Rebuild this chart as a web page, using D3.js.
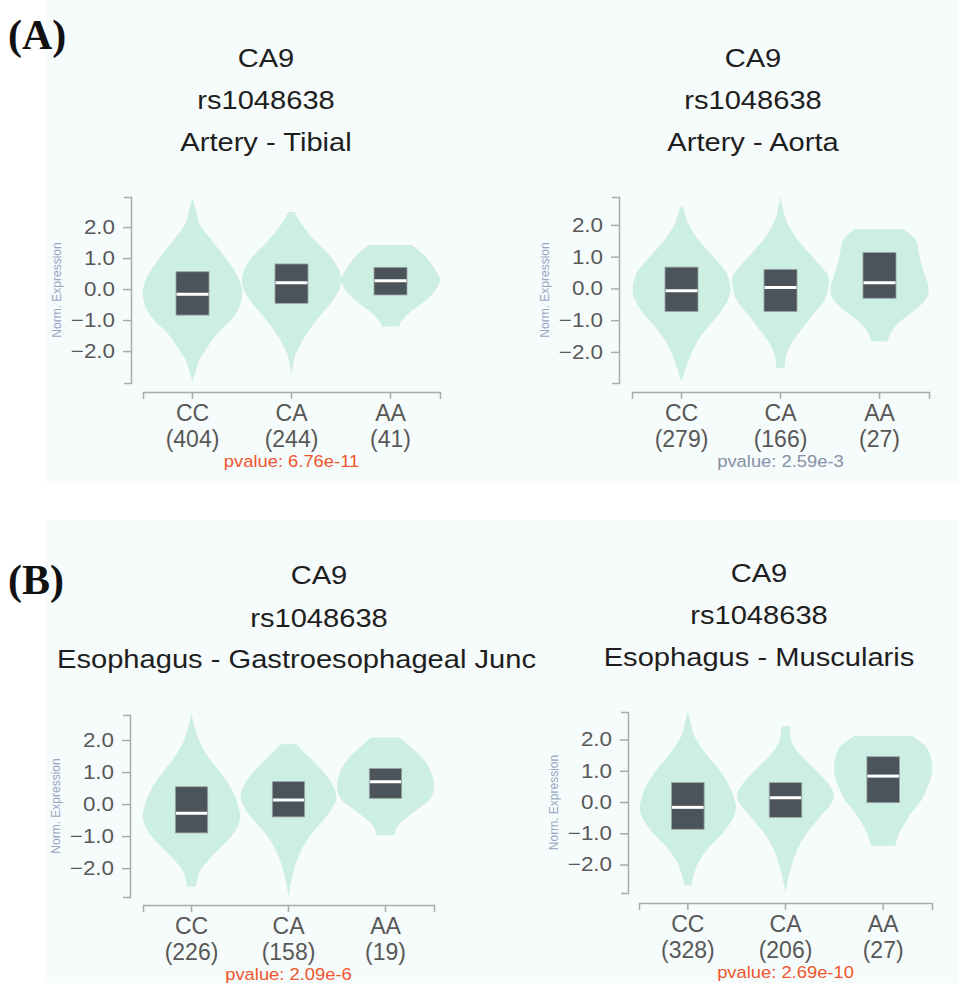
<!DOCTYPE html>
<html>
<head>
<meta charset="utf-8">
<script src="https://cdn.jsdelivr.net/npm/d3@7"></script>
<style>
  body { margin: 0; background: #fff; }
  text { font-family: "Liberation Sans", Arial, sans-serif; }
</style>
</head>
<body>
<svg id="chart"></svg>
<script>
const width = 958;
const height = 983;

// shared data
const genotypes = ["CC", "CA", "AA"];
const gene = "CA9";
const snp = "rs1048638";
const yTicks = [-2, -1, 0, 1, 2];

// violin profiles: [value, relative half-width], top to bottom
// boxes: [q1, median, q3]
const tibialTissue = "Artery - Tibial";
const tibialCounts = [404, 244, 41];
const tibialPvalue = "pvalue: 6.76e-11";
const tibialDomain = [-3.03, 2.97];
const tibialViolins = [
  [[2.93,0],[2.6,0.06],[2.12,0.14],[1.58,0.38],[1.04,0.65],[0.5,0.88],[-0.03,1.0],[-0.57,0.95],[-1.0,0.78],[-1.42,0.51],[-1.85,0.31],[-2.28,0.14],[-2.66,0.06],[-2.96,0]],
  [[2.49,0.06],[2.12,0.19],[1.58,0.46],[1.04,0.79],[0.61,0.96],[0.29,1.0],[-0.03,0.96],[-0.46,0.79],[-0.89,0.56],[-1.32,0.36],[-1.75,0.19],[-2.17,0.07],[-2.77,0]],
  [[1.42,0.43],[1.04,0.71],[0.61,0.91],[0.29,1.0],[-0.03,0.91],[-0.46,0.64],[-0.78,0.37],[-1.0,0.24],[-1.21,0.17]]
];
const tibialBoxes = [[-0.84,-0.17,0.56],[-0.46,0.2,0.81],[-0.19,0.27,0.7]];

const aortaTissue = "Artery - Aorta";
const aortaCounts = [279, 166, 27];
const aortaPvalue = "pvalue: 2.59e-3";
const aortaDomain = [-2.98, 2.88];
const aortaViolins = [
  [[2.63,0],[2.4,0.06],[2.05,0.13],[1.53,0.34],[1.0,0.64],[0.48,0.91],[-0.05,0.99],[-0.36,0.94],[-0.78,0.77],[-1.2,0.54],[-1.62,0.34],[-2.04,0.2],[-2.46,0.1],[-2.93,0]],
  [[2.89,0],[2.6,0.04],[2.26,0.09],[1.74,0.25],[1.21,0.52],[0.69,0.82],[0.37,0.97],[0.06,0.97],[-0.36,0.89],[-0.89,0.62],[-1.31,0.42],[-1.73,0.22],[-2.15,0.11],[-2.51,0.08]],
  [[1.86,0.5],[1.53,0.73],[1.0,0.81],[0.48,0.9],[0.06,0.99],[-0.25,0.97],[-0.57,0.8],[-0.99,0.46],[-1.31,0.26],[-1.67,0.16]]
];
const aortaBoxes = [[-0.73,-0.07,0.67],[-0.73,0.03,0.6],[-0.31,0.18,1.13]];

const gejTissue = "Esophagus - Gastroesophageal Junc";
const gejCounts = [226, 158, 19];
const gejPvalue = "pvalue: 2.09e-6";
const gejDomain = [-2.9, 2.78];
const gejViolins = [
  [[2.8,0],[2.5,0.05],[2.05,0.14],[1.53,0.32],[1.01,0.58],[0.49,0.82],[-0.03,0.96],[-0.45,1.0],[-0.86,0.89],[-1.28,0.65],[-1.7,0.38],[-2.11,0.17],[-2.58,0.09]],
  [[1.87,0.16],[1.53,0.38],[1.17,0.62],[0.7,0.87],[0.23,0.99],[-0.13,0.9],[-0.55,0.69],[-0.97,0.45],[-1.39,0.28],[-1.91,0.14],[-2.43,0.05],[-2.9,0]],
  [[2.08,0.29],[1.74,0.55],[1.32,0.82],[0.9,0.96],[0.54,1.0],[0.18,0.93],[-0.13,0.69],[-0.45,0.41],[-0.71,0.24],[-0.97,0.19]]
];
const gejBoxes = [[-0.9,-0.29,0.54],[-0.4,0.13,0.7],[0.18,0.7,1.11]];

const muscTissue = "Esophagus - Muscularis";
const muscCounts = [328, 206, 27];
const muscPvalue = "pvalue: 2.69e-10";
const muscDomain = [-2.91, 2.88];
const muscViolins = [
  [[2.89,0],[2.6,0.05],[2.2,0.11],[1.66,0.31],[1.13,0.59],[0.6,0.82],[0.06,0.96],[-0.26,0.98],[-0.69,0.86],[-1.1,0.65],[-1.54,0.38],[-1.96,0.21],[-2.39,0.11],[-2.66,0.07]],
  [[2.43,0.08],[1.88,0.14],[1.45,0.34],[0.92,0.68],[0.49,0.92],[0.22,0.99],[-0.04,0.94],[-0.47,0.71],[-1.0,0.44],[-1.43,0.27],[-1.96,0.14],[-2.5,0.05],[-2.92,0]],
  [[2.11,0.59],[1.77,0.88],[1.34,0.99],[0.92,1.0],[0.49,0.91],[0.06,0.78],[-0.36,0.57],[-0.79,0.4],[-1.11,0.3],[-1.4,0.25]]
];
const muscBoxes = [[-0.87,-0.17,0.62],[-0.49,0.14,0.62],[-0.02,0.83,1.45]];

const violinColor = "#cdeee2";
const boxColor = "#4b545b";
const axisColor = "#ababab";
const tickTextColor = "#585858";
const redP = "#f0552c";
const grayP = "#8790a6";

// panel layout (pixels)
const panels = [
  {tissue: tibialTissue, counts: tibialCounts, pvalue: tibialPvalue, pColor: redP, domain: tibialDomain,
   violins: tibialViolins, boxes: tibialBoxes,
   axisX: 131, top: 197, bottom: 383, left: 143, right: 440, xAxisY: 392, titleX: 266, titleY: [67, 109, 151]},
  {tissue: aortaTissue, counts: aortaCounts, pvalue: aortaPvalue, pColor: grayP, domain: aortaDomain,
   violins: aortaViolins, boxes: aortaBoxes,
   axisX: 619, top: 197, bottom: 383, left: 632, right: 929, xAxisY: 392, titleX: 753, titleY: [67, 109, 151]},
  {tissue: gejTissue, counts: gejCounts, pvalue: gejPvalue, pColor: redP, domain: gejDomain,
   violins: gejViolins, boxes: gejBoxes, tissueStart: 57,
   axisX: 130, top: 715, bottom: 897, left: 143, right: 434, xAxisY: 905, titleX: 319, titleY: [584, 627, 668]},
  {tissue: muscTissue, counts: muscCounts, pvalue: muscPvalue, pColor: redP, domain: muscDomain,
   violins: muscViolins, boxes: muscBoxes,
   axisX: 628, top: 712, bottom: 893, left: 639, right: 932, xAxisY: 903, titleX: 759, titleY: [582, 624, 666]}
];

var svg = d3.select("#chart")
  .attr("width", width)
  .attr("height", height);

// light panel backgrounds
svg.append("rect").attr("x", 45).attr("y", 0).attr("width", width - 45).attr("height", 483).attr("fill", "#f6fbfb");
svg.append("rect").attr("x", 45).attr("y", 520).attr("width", width - 45).attr("height", height - 520).attr("fill", "#f6fbfb");

// stretched text helper (the source image is slightly wide)
function sText(g, x, y, str, size, sx, anchor) {
  return g.append("text")
    .attr("transform", `translate(${x},${y}) scale(${sx},1)`)
    .attr("text-anchor", anchor || "middle")
    .attr("font-size", size)
    .text(str);
}

panels.forEach(p => {
  var g = svg.append("g");

  // titles
  sText(g, p.titleX, p.titleY[0], gene, 26, 1.12).attr("fill", "#1e1e1e");
  sText(g, p.titleX, p.titleY[1], snp, 26, 1.12).attr("fill", "#1e1e1e");
  if (p.tissueStart) {
    sText(g, p.tissueStart, p.titleY[2], p.tissue, 26, 1.12, "start").attr("fill", "#1e1e1e");
  } else {
    sText(g, p.titleX, p.titleY[2], p.tissue, 26, 1.12).attr("fill", "#1e1e1e");
  }

  var y = d3.scaleLinear().domain(p.domain).range([p.bottom, p.top]);
  var x = d3.scaleBand().domain(genotypes).range([p.left, p.right]);
  var hw = x.bandwidth() / 2;

  // violins
  genotypes.forEach((gt, i) => {
    var cx = x(gt) + hw;
    var area = d3.area()
      .curve(d3.curveCatmullRom.alpha(0.5))
      .y(d => y(d[0]))
      .x0(d => cx - d[1] * hw)
      .x1(d => cx + d[1] * hw);
    g.append("path")
      .attr("d", area(p.violins[i]))
      .attr("fill", violinColor);

    var b = p.boxes[i];
    var bw = x.bandwidth() / 3;
    g.append("rect")
      .attr("x", cx - bw / 2)
      .attr("y", y(b[2]))
      .attr("width", bw)
      .attr("height", y(b[0]) - y(b[2]))
      .attr("fill", boxColor)
      .attr("stroke", "#9aa4a4")
      .attr("stroke-width", 0.8);
    g.append("line")
      .attr("x1", cx - bw / 2 + 0.5)
      .attr("x2", cx + bw / 2 - 0.5)
      .attr("y1", y(b[1]))
      .attr("y2", y(b[1]))
      .attr("stroke", "#fff")
      .attr("stroke-width", 3);
  });

  // y axis
  var yAxis = d3.axisLeft(y)
    .tickValues(yTicks)
    .tickFormat(d3.format(".1f"))
    .tickSizeInner(8)
    .tickSizeOuter(7)
    .tickPadding(8);
  var ya = g.append("g")
    .attr("transform", `translate(${p.axisX},0)`)
    .call(yAxis);
  ya.selectAll("path, line").attr("stroke", axisColor).attr("stroke-width", 1.5);
  ya.selectAll(".tick text")
    .attr("font-size", 20)
    .attr("font-family", "Liberation Sans, Arial, sans-serif")
    .attr("fill", tickTextColor)
    .attr("x", function() { return +d3.select(this).attr("x") / 1.12; })
    .attr("transform", "scale(1.12,1)");

  g.append("text")
    .attr("transform", `translate(${p.axisX - 70},${(p.top + p.bottom) / 2}) rotate(-90)`)
    .attr("text-anchor", "middle")
    .attr("font-size", 12)
    .attr("fill", "#7d92b6")
    .attr("opacity", 0.8)
    .text("Norm. Expression");

  // x axis
  var xAxis = d3.axisBottom(x)
    .tickSizeInner(7)
    .tickSizeOuter(7)
    .tickFormat("");
  var xa = g.append("g")
    .attr("transform", `translate(0,${p.xAxisY})`)
    .call(xAxis);
  xa.selectAll("path, line").attr("stroke", axisColor).attr("stroke-width", 1.5);
  xa.selectAll(".tick text").remove();
  xa.selectAll(".tick").each(function(d, i) {
    var t = d3.select(this);
    t.append("text").attr("y", 28.5).attr("text-anchor", "middle").attr("font-size", 23)
      .attr("fill", tickTextColor).text(d);
    t.append("text").attr("y", 54.5).attr("text-anchor", "middle").attr("font-size", 23)
      .attr("fill", tickTextColor).text("(" + p.counts[i] + ")");
  });

  sText(g, (p.left + p.right) / 2, p.xAxisY + 74.5, p.pvalue, 17, 1.08).attr("fill", p.pColor);
});

// panel letters
svg.append("text").attr("x", 8).attr("y", 49)
  .style("font-family", "Liberation Serif, Times New Roman, serif")
  .attr("font-weight", "bold").attr("font-size", 42).attr("fill", "#111").text("(A)");
svg.append("text").attr("x", 8).attr("y", 594)
  .style("font-family", "Liberation Serif, Times New Roman, serif")
  .attr("font-weight", "bold").attr("font-size", 42).attr("fill", "#111").text("(B)");
</script>
</body>
</html>
